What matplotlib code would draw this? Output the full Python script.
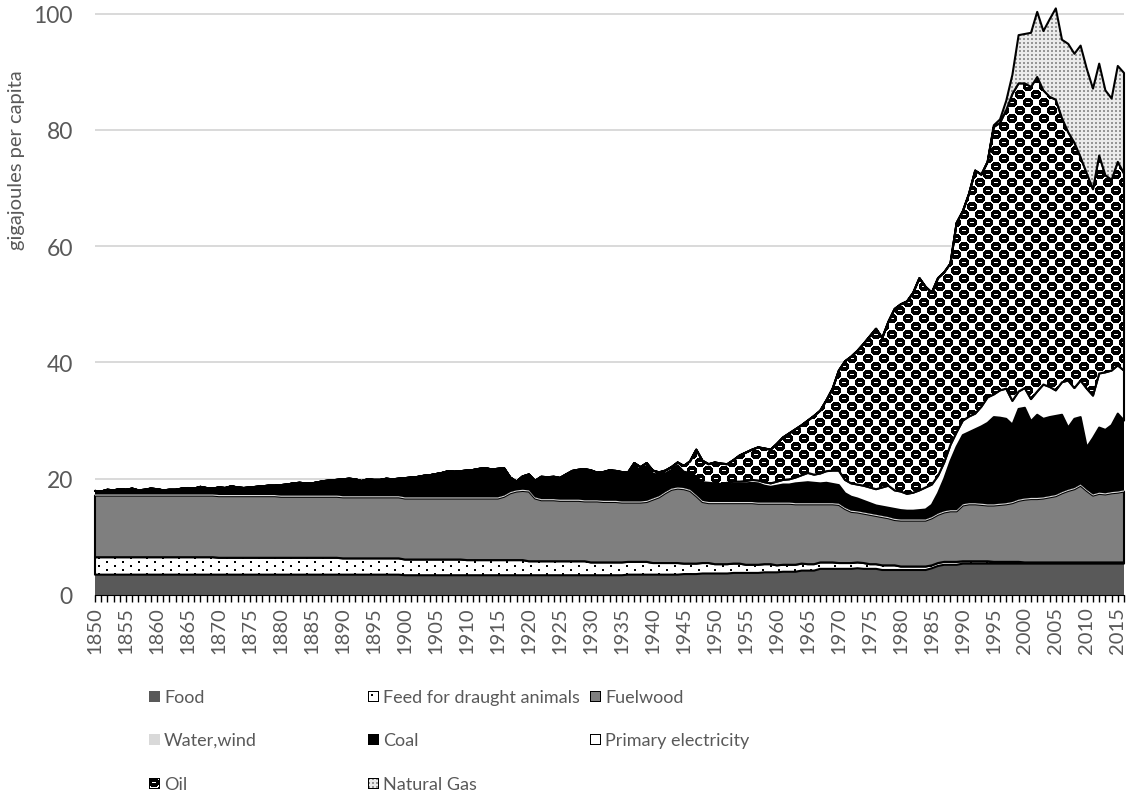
import numpy as np
import matplotlib
matplotlib.use("Agg")
import matplotlib.pyplot as plt

plt.rcParams['font.family'] = ['Lato', 'DejaVu Sans']

years = list(range(1850, 2017))

# layer values in GJ per capita, one per year 1850..2016
food = [
    3.5, 3.5, 3.5, 3.5, 3.5, 3.5, 3.5, 3.5, 3.5, 3.5,
    3.5, 3.5, 3.5, 3.5, 3.5, 3.5, 3.5, 3.5, 3.5, 3.5,
    3.5, 3.5, 3.5, 3.5, 3.5, 3.5, 3.5, 3.5, 3.5, 3.5,
    3.5, 3.5, 3.5, 3.5, 3.5, 3.5, 3.5, 3.5, 3.5, 3.5,
    3.5, 3.5, 3.5, 3.5, 3.5, 3.5, 3.5, 3.5, 3.5, 3.5,
    3.4, 3.4, 3.4, 3.4, 3.4, 3.4, 3.4, 3.4, 3.4, 3.4,
    3.4, 3.4, 3.4, 3.4, 3.4, 3.4, 3.4, 3.4, 3.4, 3.4,
    3.4, 3.4, 3.4, 3.4, 3.4, 3.4, 3.4, 3.4, 3.4, 3.4,
    3.4, 3.4, 3.4, 3.4, 3.4, 3.4, 3.5, 3.5, 3.5, 3.5,
    3.5, 3.5, 3.5, 3.5, 3.5, 3.6, 3.6, 3.6, 3.7, 3.7,
    3.7, 3.7, 3.7, 3.8, 3.8, 3.8, 3.8, 3.8, 3.9, 3.9,
    3.9, 4.0, 4.0, 4.0, 4.2, 4.2, 4.2, 4.5, 4.5, 4.5,
    4.5, 4.5, 4.5, 4.6, 4.5, 4.5, 4.5, 4.3, 4.3, 4.3,
    4.3, 4.3, 4.3, 4.3, 4.3, 4.6, 5.0, 5.2, 5.2, 5.2,
    5.4, 5.4, 5.4, 5.4, 5.4, 5.4, 5.4, 5.4, 5.4, 5.4,
    5.4, 5.4, 5.4, 5.4, 5.4, 5.4, 5.4, 5.4, 5.4, 5.4,
    5.4, 5.4, 5.4, 5.4, 5.4, 5.4, 5.4,
]
feed = [
    3.0, 3.0, 3.0, 3.0, 3.0, 3.0, 3.0, 3.0, 3.0, 3.0,
    3.0, 3.0, 3.0, 3.0, 3.0, 3.0, 3.0, 3.0, 3.0, 3.0,
    2.9, 2.9, 2.9, 2.9, 2.9, 2.9, 2.9, 2.9, 2.9, 2.9,
    2.9, 2.9, 2.9, 2.9, 2.9, 2.9, 2.9, 2.9, 2.9, 2.9,
    2.8, 2.8, 2.8, 2.8, 2.8, 2.8, 2.8, 2.8, 2.8, 2.8,
    2.7, 2.7, 2.7, 2.7, 2.7, 2.7, 2.7, 2.7, 2.7, 2.7,
    2.6, 2.6, 2.6, 2.6, 2.6, 2.6, 2.6, 2.6, 2.6, 2.6,
    2.4, 2.4, 2.4, 2.4, 2.4, 2.4, 2.4, 2.4, 2.4, 2.4,
    2.2, 2.2, 2.2, 2.2, 2.2, 2.2, 2.2, 2.2, 2.2, 2.2,
    2.0, 2.0, 2.0, 2.0, 2.0, 1.8, 1.8, 1.8, 1.8, 1.8,
    1.6, 1.6, 1.6, 1.6, 1.6, 1.4, 1.4, 1.4, 1.4, 1.4,
    1.2, 1.2, 1.2, 1.2, 1.2, 1.1, 1.1, 1.1, 1.1, 1.1,
    1.0, 1.0, 1.0, 1.0, 1.0, 0.8, 0.8, 0.8, 0.8, 0.8,
    0.6, 0.6, 0.6, 0.6, 0.6, 0.5, 0.5, 0.5, 0.5, 0.5,
    0.4, 0.4, 0.4, 0.4, 0.4, 0.3, 0.3, 0.3, 0.3, 0.3,
    0.2, 0.2, 0.2, 0.2, 0.2, 0.2, 0.2, 0.2, 0.2, 0.2,
    0.2, 0.2, 0.2, 0.2, 0.2, 0.2, 0.2,
]
fuelwood = [
    10.6, 10.6, 10.6, 10.6, 10.6, 10.6, 10.6, 10.6, 10.6, 10.6,
    10.6, 10.6, 10.6, 10.6, 10.6, 10.6, 10.6, 10.6, 10.6, 10.6,
    10.6, 10.6, 10.6, 10.6, 10.6, 10.6, 10.6, 10.6, 10.6, 10.6,
    10.5, 10.5, 10.5, 10.5, 10.5, 10.5, 10.5, 10.5, 10.5, 10.5,
    10.5, 10.5, 10.5, 10.5, 10.5, 10.5, 10.5, 10.5, 10.5, 10.5,
    10.5, 10.5, 10.5, 10.5, 10.5, 10.5, 10.5, 10.5, 10.5, 10.5,
    10.6, 10.6, 10.6, 10.6, 10.6, 10.6, 10.9, 11.5, 11.8, 11.9,
    12.0, 10.8, 10.5, 10.5, 10.5, 10.4, 10.4, 10.4, 10.4, 10.3,
    10.5, 10.5, 10.4, 10.4, 10.4, 10.3, 10.2, 10.2, 10.2, 10.3,
    10.9, 11.3, 12.0, 12.6, 12.8, 12.8, 12.5, 11.6, 10.5, 10.3,
    10.5, 10.5, 10.5, 10.4, 10.4, 10.6, 10.6, 10.5, 10.4, 10.4,
    10.6, 10.5, 10.5, 10.4, 10.2, 10.3, 10.3, 10.0, 10.0, 10.0,
    10.0, 9.3, 8.8, 8.6, 8.5, 8.5, 8.3, 8.3, 8.1, 7.8,
    7.9, 7.9, 7.9, 7.9, 7.9, 8.1, 8.3, 8.5, 8.7, 8.7,
    9.6, 9.8, 9.8, 9.7, 9.6, 9.7, 9.8, 9.9, 10.1, 10.5,
    10.8, 10.9, 10.9, 11.0, 11.2, 11.4, 11.9, 12.3, 12.6, 13.2,
    12.3, 11.5, 11.8, 11.7, 11.9, 12.0, 12.2,
]
water_wind = [0.2] * len(years)
coal = [
    0.6, 0.5, 0.8, 0.7, 0.9, 0.8, 1.0, 0.7, 0.8, 1.0,
    0.9, 0.7, 0.8, 0.8, 1.0, 1.1, 1.0, 1.3, 1.1, 1.0,
    1.3, 1.2, 1.5, 1.3, 1.2, 1.3, 1.4, 1.5, 1.6, 1.6,
    1.8, 1.9, 2.1, 2.2, 2.1, 2.1, 2.3, 2.5, 2.6, 2.7,
    2.9, 3.0, 2.9, 2.6, 2.9, 2.8, 2.8, 3.0, 2.9, 3.0,
    3.3, 3.4, 3.5, 3.7, 3.8, 4.0, 4.2, 4.5, 4.4, 4.5,
    4.6, 4.7, 4.9, 5.0, 4.8, 4.9, 4.7, 2.5, 1.5, 2.3,
    2.5, 2.6, 3.6, 3.5, 3.6, 3.3, 3.9, 4.5, 4.7, 4.9,
    4.7, 4.3, 4.5, 4.8, 4.7, 4.6, 4.3, 5.9, 5.2, 5.8,
    4.1, 3.4, 3.0, 3.0, 3.6, 2.6, 2.6, 2.9, 2.9, 3.0,
    2.9, 2.8, 3.0, 3.1, 3.1, 3.2, 3.3, 3.3, 2.9, 2.7,
    2.9, 3.1, 3.1, 3.4, 3.5, 3.6, 3.5, 3.4, 3.5, 3.3,
    3.2, 2.5, 2.4, 2.2, 2.0, 1.8, 1.6, 1.6, 1.6, 1.7,
    1.6, 1.5, 1.5, 1.6, 1.7, 2.1, 3.5, 5.6, 8.4, 10.9,
    11.9, 12.2, 12.7, 13.3, 14.0, 15.0, 14.8, 14.5, 13.3, 15.6,
    15.6, 13.2, 14.3, 13.5, 13.6, 13.6, 13.3, 10.7, 11.9, 11.6,
    7.3, 9.7, 11.2, 10.9, 11.5, 13.4, 12.0,
]
primary_elec = [0.0] * 70 + [
    0.15, 0.15, 0.15, 0.15, 0.15, 0.15, 0.15, 0.15, 0.15, 0.15,
    0.15, 0.15, 0.15, 0.15, 0.15, 0.15, 0.2, 0.2, 0.2, 0.2,
    0.2, 0.2, 0.2, 0.2, 0.2, 0.2, 0.3, 0.3, 0.3, 0.3,
    0.3, 0.3, 0.3, 0.4, 0.4, 0.4, 0.5, 0.5, 0.6, 0.6,
    0.7, 0.8, 0.9, 1.0, 1.3, 1.6, 1.4, 1.7, 2.0, 2.3,
    2.5, 2.3, 2.3, 2.4, 2.6, 2.7, 2.8, 3.3, 3.8, 3.2,
    3.2, 2.9, 3.1, 3.4, 3.8, 3.5, 3.0, 2.8, 2.8, 2.5,
    2.5, 2.7, 2.7, 3.4, 4.4, 3.9, 4.7, 5.2, 4.1, 3.0,
    3.4, 3.8, 4.0, 5.9, 5.2, 4.4, 5.6, 8.1, 5.3, 6.3,
    10.1, 7.3, 9.3, 9.9, 9.4, 8.3, 8.6,
]
oil = [0.0] * 70 + [
    0.1, 0.1, 0.1, 0.1, 0.1, 0.3, 0.3, 0.3, 0.3, 0.3,
    0.3, 0.3, 0.3, 0.3, 0.3, 0.3, 0.5, 0.5, 0.5, 0.5,
    0.5, 0.5, 0.5, 0.5, 0.5, 1.0, 2.0, 4.6, 3.7, 3.2,
    3.6, 3.5, 3.2, 3.7, 4.5, 4.9, 5.2, 5.7, 5.8, 5.8,
    6.5, 7.3, 7.9, 8.3, 8.6, 9.0, 10.1, 10.8, 12.2, 14.1,
    17.2, 20.4, 21.8, 23.0, 24.4, 26.0, 27.6, 25.7, 28.2, 31.2,
    32.2, 33.1, 34.4, 36.5, 34.5, 33.0, 34.0, 32.7, 31.2, 36.0,
    36.0, 38.3, 41.8, 39.9, 40.5, 46.0, 46.0, 47.9, 52.8, 53.0,
    52.4, 53.7, 54.1, 50.6, 49.9, 50.0, 45.4, 42.7, 42.2, 38.4,
    37.0, 35.5, 37.5, 33.9, 32.8, 35.0, 33.9,
]
natural_gas = [0.0] * 145 + [
    0.3, 0.6, 1.6, 3.3, 8.3,
    8.5, 9.3, 11.2, 10.2, 13.3, 15.7, 13.5, 15.2, 15.3, 19.2,
    18.0, 17.3, 15.8, 14.6, 14.0, 16.5, 17.3,
]

labels = ["Food", "Feed for draught animals", "Fuelwood", "Water,wind",
          "Coal", "Primary electricity", "Oil", "Natural Gas"]
series = [food, feed, fuelwood, water_wind, coal, primary_elec, oil, natural_gas]


# ---- Excel style pattern tiles (0 = black, 255 = white) ----
def sphere_tile():
    blob = np.array([
        [1, 1, 0, 0, 0, 0, 0, 0, 1, 1],
        [1, 0, 0, 0, 0, 0, 0, 0, 0, 1],
        [0, 0, 0, 0, 0, 0, 0, 0, 0, 0],
        [0, 0, 0, 0, 0, 0, 0, 0, 0, 0],
        [0, 0, 0, 1, 1, 1, 1, 0, 0, 0],
        [0, 0, 0, 0, 0, 0, 0, 0, 0, 0],
        [0, 0, 0, 0, 0, 0, 0, 0, 0, 0],
        [1, 0, 0, 0, 0, 0, 0, 0, 0, 1],
        [1, 1, 0, 0, 0, 0, 0, 0, 1, 1]]) * 255
    t = np.full((16, 16), 255)
    t[0:9, 0:10] = blob
    t2 = np.roll(np.roll(t, 8, axis=0), 8, axis=1)
    return np.minimum(t, t2)


def dots_tile():
    t = np.full((8, 16), 255)
    t[3:5, 3:5] = 0
    t[7:8, 11:13] = 0
    t[0:1, 11:13] = 0
    return t


def gas_tile():
    t = np.full((4, 4), 235)
    t[0:2, 0:2] = 150
    return t


tiles = {"Feed for draught animals": dots_tile(), "Oil": sphere_tile(), "Natural Gas": gas_tile()}
fills = {"Food": "#595959", "Feed for draught animals": "white", "Fuelwood": "#7f7f7f",
         "Water,wind": "#d9d9d9", "Coal": "black", "Primary electricity": "white",
         "Oil": "white", "Natural Gas": "#dddddd"}
outlined = ["Feed for draught animals", "Fuelwood", "Primary electricity", "Oil", "Natural Gas"]

W, H = 1128, 804
fig = plt.figure(figsize=(W / 100, H / 100), dpi=100)
ax_px = (95, 208, 1029, 593)   # left, bottom, width, height in pixels
ax = fig.add_axes([ax_px[0] / W, ax_px[1] / H, ax_px[2] / W, ax_px[3] / H])
YMAX = 102

x = np.arange(len(years))
base = np.zeros(len(years))
for i, (lab, vals) in enumerate(zip(labels, series)):
    top = base + np.array(vals)
    z = 2 + i
    poly = ax.fill_between(x, base, top, facecolor=fills[lab], edgecolor="none",
                           linewidth=0, zorder=z)
    if lab in tiles:
        t = tiles[lab]
        reps = (ax_px[3] // t.shape[0] + 1, ax_px[2] // t.shape[1] + 1)
        tex = np.tile(t, reps)[:ax_px[3], :ax_px[2]]
        im = ax.imshow(tex, cmap="gray", vmin=0, vmax=255, extent=(0, len(years) - 1, 0, YMAX),
                       origin="upper", interpolation="nearest", aspect="auto", zorder=z + 0.1)
        im.set_clip_path(poly.get_paths()[0], ax.transData)
    if lab in outlined:
        ax.fill_between(x, base, top, facecolor="none", edgecolor="black",
                        linewidth=1.5, zorder=z + 0.2, clip_on=False)
    base = top

ax.set_xlim(0, len(years) - 1)
ax.set_ylim(0, YMAX)

# axes styling
for s in ["top", "right", "left"]:
    ax.spines[s].set_visible(False)
ax.spines["bottom"].set_color("black")
ax.spines["bottom"].set_zorder(20)
ax.set_yticks([0, 20, 40, 60, 80, 100])
ax.yaxis.grid(True, color="#d9d9d9", linewidth=1.4)
ax.set_axisbelow(True)
ax.tick_params(axis="y", length=0, pad=16, labelsize=16.5, labelcolor="#595959")
ax.set_xticks(x[::5])
ax.set_xticklabels([str(y) for y in years[::5]], rotation=90)
ax.set_xticks(x, minor=True)
ax.tick_params(axis="x", which="both", length=5, width=1, color="black",
               labelsize=14.5, labelcolor="#595959", pad=3)

fig.text(17 / W, 1 - 160 / H, "gigajoules per capita", rotation=90, ha="center", va="center",
         fontsize=14.5, color="#595959")


# ---- legend, laid out as in the spreadsheet: three equal-width columns ----
def swatch(lab, size=11):
    if lab in tiles:
        t = tiles[lab]
        reps = (size // t.shape[0] + 1, size // t.shape[1] + 1)
        g = np.tile(t, reps)[:size, :size] / 255.0
        rgb = np.dstack([g, g, g])
    else:
        c = np.array(matplotlib.colors.to_rgb(fills[lab]))
        rgb = np.ones((size, size, 3)) * c
    if lab in outlined:
        rgb[0, :] = 0
        rgb[-1, :] = 0
        rgb[:, 0] = 0
        rgb[:, -1] = 0
    return rgb


col_x = [149, 368, 590]
row_y = [698, 741, 785]
for i, lab in enumerate(labels):
    r, c = divmod(i, 3)
    sw = swatch(lab)
    fig.figimage(sw, xo=col_x[c], yo=H - row_y[r] - 5, origin="upper", zorder=30)
    fig.text((col_x[c] + 15) / W, 1 - row_y[r] / H, lab, ha="left", va="center",
             fontsize=13, color="#595959")

fig.savefig("out.png", dpi=100)
